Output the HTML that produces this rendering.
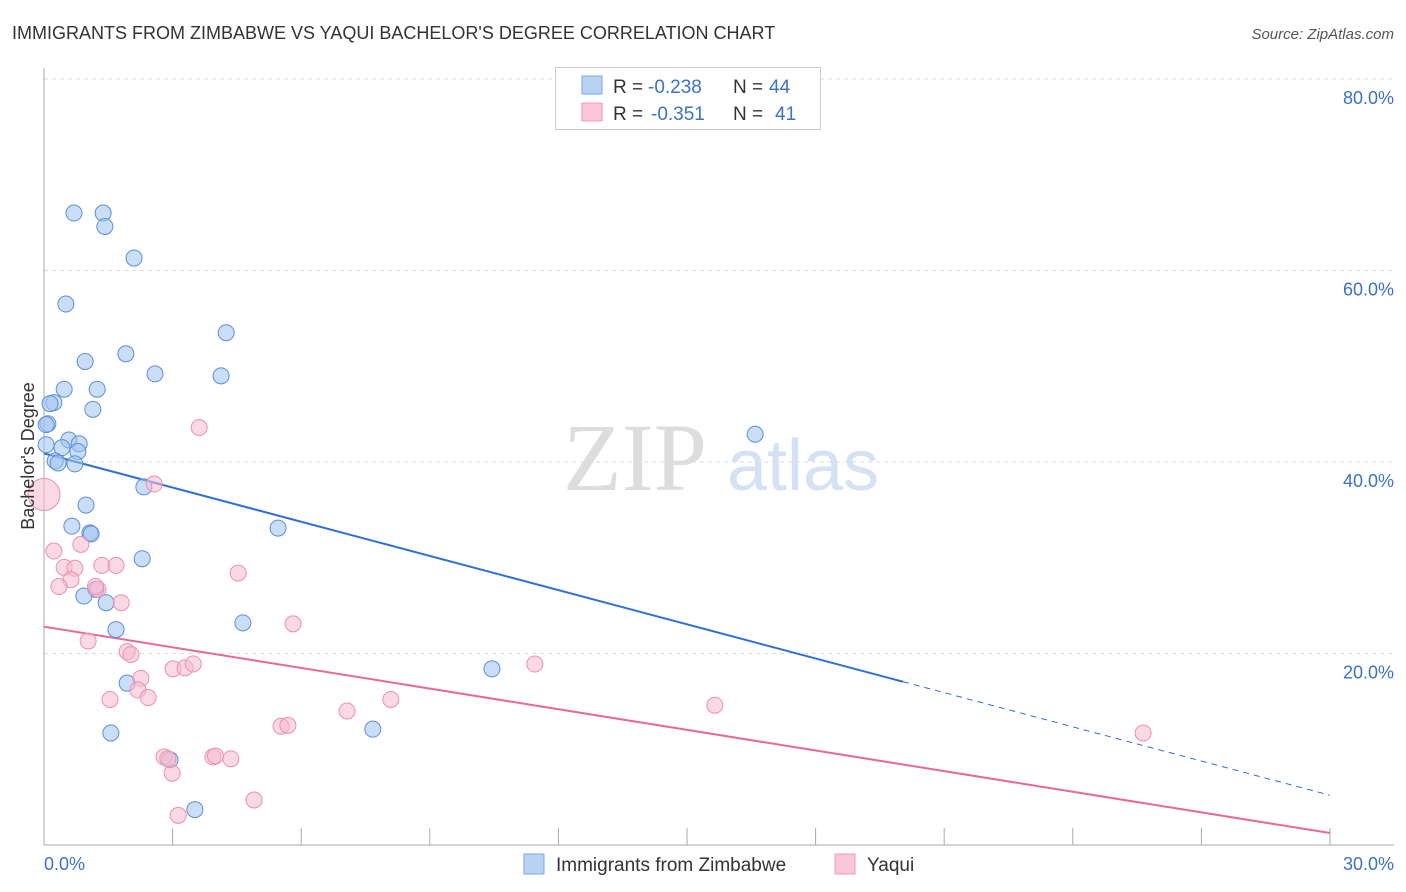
<!DOCTYPE html>
<html><head><meta charset="utf-8"><style>
body{margin:0;background:#fff;font-family:"Liberation Sans",sans-serif}
svg{display:block}
</style></head><body>
<svg id="chart" width="1406" height="892" xmlns="http://www.w3.org/2000/svg">
<text x="12" y="39" font-size="18" fill="#333">IMMIGRANTS FROM ZIMBABWE VS YAQUI BACHELOR'S DEGREE CORRELATION CHART</text>
<text x="1394" y="39" font-size="15" fill="#555" font-style="italic" text-anchor="end">Source: ZipAtlas.com</text>
<g>
<text x="635" y="490" font-size="96" fill="#ddd" font-family="Liberation Serif,serif" text-anchor="middle">ZIP</text>
<text x="803" y="490" font-size="72" fill="#d4e2f4" text-anchor="middle">atlas</text>
</g>
<g id="grid"></g><g id="axes"></g><g id="trend"></g><g id="pts"></g>
<text transform="translate(34,456) rotate(-90)" font-size="18" fill="#333" text-anchor="middle">Bachelor's Degree</text>
<text x="44" y="870" font-size="18" fill="#3a72c8">0.0%</text>
<text x="1394" y="870" font-size="18" fill="#3a72c8" text-anchor="end">30.0%</text>
<g>
<rect x="555.5" y="67.5" width="265" height="62" fill="#fff" stroke="#ccc"/>
<rect x="582" y="76" width="20" height="18" fill="#b8d2f4" stroke="#7aa6e0"/>
<rect x="582" y="103" width="20" height="18" fill="#f9c6d6" stroke="#ee9ab5"/>
<text x="613" y="93" font-size="19" fill="#333">R =</text>
<text x="648" y="93" font-size="19" fill="#3a72c8">-0.238</text>
<text x="733" y="93" font-size="19" fill="#333">N =</text>
<text x="769" y="93" font-size="19" fill="#3a72c8">44</text>
<text x="613" y="120" font-size="19" fill="#333">R =</text>
<text x="651" y="120" font-size="19" fill="#3a72c8">-0.351</text>
<text x="733" y="120" font-size="19" fill="#333">N =</text>
<text x="775" y="120" font-size="19" fill="#3a72c8">41</text>
</g>
<g>
<rect x="524" y="854" width="20" height="20" fill="#b8d2f4" stroke="#7aa6e0"/>
<text x="556" y="871" font-size="19" fill="#333">Immigrants from Zimbabwe</text>
<rect x="835" y="854" width="20" height="20" fill="#f9c6d6" stroke="#ee9ab5"/>
<text x="867" y="871" font-size="19" fill="#333">Yaqui</text>
</g>
</svg>
<script>
const yTicks=[20,40,60,80];
const xTicks=[0,3,6,9,12,15,18,21,24,27,30];
const blueX=[0.70,1.38,1.42,2.10,0.51,4.25,0.96,1.91,2.59,4.13,0.47,1.24,0.23,0.14,1.14,0.09,0.58,0.82,0.42,0.79,0.26,0.33,0.72,2.33,0.98,0.65,1.07,5.46,2.29,1.21,0.93,1.45,1.68,4.64,1.94,1.56,2.94,3.52,10.45,7.67,16.59,0.05,0.05,1.10];
const blueY=[66.0,66.0,64.6,61.3,56.5,53.5,50.5,51.3,49.2,49.0,47.6,47.6,46.2,46.1,45.5,44.0,42.3,41.9,41.5,41.1,40.1,39.9,39.8,37.4,35.5,33.3,32.6,33.1,29.9,26.7,26.0,25.3,22.5,23.2,16.9,11.7,8.9,3.7,18.4,12.1,42.9,43.9,41.8,32.5];
const pinkX=[0.0,0.23,0.86,0.47,0.72,0.63,0.35,1.35,1.68,1.26,1.80,1.03,1.94,2.03,3.62,2.57,4.53,5.81,2.26,2.19,1.54,2.43,3.01,3.29,3.48,7.07,8.09,5.53,5.69,2.80,3.94,4.36,2.99,4.90,3.13,11.45,15.65,25.64,2.89,1.20,4.0];
const pinkY=[36.6,30.7,31.4,29.0,28.9,27.7,27.0,29.2,29.2,26.7,25.3,21.3,20.2,19.9,43.6,37.7,28.4,23.1,17.4,16.2,15.2,15.4,18.4,18.5,18.9,14.0,15.2,12.4,12.5,9.2,9.2,9.0,7.5,4.7,3.1,18.9,14.6,11.7,9.0,27.0,9.3];
const blueTrend=[40.9,5.2], blueSolidEnd=20.04;
const pinkTrend=[22.8,1.25];
const NS='http://www.w3.org/2000/svg';
const X=v=>44+v*1286/30, Y=v=>845-v*766/80;
function mk(tag,attrs,parent){const e=document.createElementNS(NS,tag);for(const k in attrs)e.setAttribute(k,attrs[k]);document.getElementById(parent).appendChild(e);return e;}
for(const t of yTicks){
 const l=mk('line',{x1:44,x2:1394,y1:Y(t),y2:Y(t),stroke:'#ddd','stroke-dasharray':'4,4'},'grid');
 
 
 const tx=mk('text',{x:1394,y:Y(t)+25,'font-size':18,fill:'#3a72c8','text-anchor':'end'},'grid');tx.textContent=t.toFixed(1)+'%';
 
 
}
const topGrid=mk('line',{x1:44,x2:1394,y1:79,y2:79,stroke:'#ddd','stroke-dasharray':'4,4'},'grid');


const ya=mk('line',{x1:44,x2:44,y1:68,y2:845,stroke:'#aaa'},'axes');


const xa=mk('line',{x1:44,x2:1394,y1:845,y2:845,stroke:'#aaa'},'axes');


for(const t of xTicks){const l=mk('line',{x1:X(t),x2:X(t),y1:828,y2:845,stroke:'#aaa'},'axes');
 
 }
const yb=x=>blueTrend[0]+(blueTrend[1]-blueTrend[0])*x/30;
const yp=x=>pinkTrend[0]+(pinkTrend[1]-pinkTrend[0])*x/30;
const t1=mk('line',{x1:X(0),y1:Y(yb(0)),x2:X(blueSolidEnd),y2:Y(yb(blueSolidEnd)),stroke:'#2e6fd8','stroke-width':2},'trend');


const t2=mk('line',{x1:X(blueSolidEnd),y1:Y(yb(blueSolidEnd)),x2:X(30),y2:Y(yb(30)),stroke:'#2e6fd8','stroke-width':1,'stroke-dasharray':'6,5'},'trend');


const t3=mk('line',{x1:X(0),y1:Y(yp(0)),x2:X(30),y2:Y(yp(30)),stroke:'#e8689a','stroke-width':2},'trend');


blueX.forEach((x,i)=>{const c=mk('circle',{cx:X(x),cy:Y(blueY[i]),r:8,fill:'rgba(160,195,240,0.55)',stroke:'#5b8fd8','stroke-width':1},'pts');
 
 });
pinkX.forEach((x,i)=>{const c=mk('circle',{cx:X(x),cy:Y(pinkY[i]),r:i===0?16:8,fill:'rgba(248,185,205,0.55)',stroke:'#ec8fb0','stroke-width':1},'pts');
 
 });
</script>
</body></html>
